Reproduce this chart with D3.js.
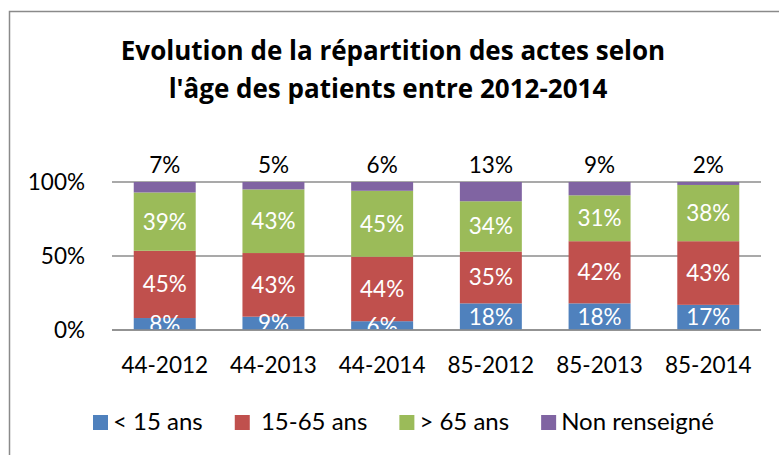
<!DOCTYPE html>
<html>
<head>
<meta charset="utf-8">
<script src="https://cdn.jsdelivr.net/npm/d3@7"></script>
<style>
  body { margin: 0; background: #fff; }
  svg { display: block; font-family: Lato, "Open Sans", sans-serif; }
</style>
</head>
<body>
<div id="chart"></div>
<script>
// data (percent, rounded as shown)
var categories = ["44-2012", "44-2013", "44-2014", "85-2012", "85-2013", "85-2014"];
var series = ["< 15 ans", " 15-65 ans", "> 65 ans", "Non renseigné"];
var moins15 = [8, 9, 6, 18, 18, 17];
var de15a65 = [45, 43, 44, 35, 42, 43];
var plus65 = [39, 43, 45, 34, 31, 38];
var nonRens = [7, 5, 6, 13, 9, 2];
var yTicks = [0, 0.5, 1];
var colors = ["#4F81BD", "#C0504D", "#9BBB59", "#8064A2"];

var W = 779, H = 455;
var svg = d3.select("#chart").append("svg")
    .attr("width", W)
    .attr("height", H);

// frame of the chart area (only top and left visible)
svg.append("path")
    .attr("d", "M9.5," + H + "V11.5H" + W)
    .attr("fill", "none")
    .attr("stroke", "#8a8a8a")
    .attr("stroke-width", 1.5);

// title
var title = svg.append("text")
    .attr("text-anchor", "middle")
    .attr("font-family", "'Open Sans', sans-serif")
    .attr("font-weight", "bold")
    .attr("font-size", 26)
    .attr("fill", "#000");
title.append("tspan").attr("x", 393).attr("y", 60).text("Evolution de la répartition des actes selon");
title.append("tspan").attr("x", 388).attr("y", 98).text("l'âge des patients entre 2012-2014");

// build table + normalize (100% stacked)
var keys = ["a", "b", "c", "d"];
var table = categories.map(function(c, i) {
  var row = {cat: c, a: moins15[i], b: de15a65[i], c: plus65[i], d: nonRens[i]};
  var tot = row.a + row.b + row.c + row.d;
  row.raw = {a: row.a, b: row.b, c: row.c, d: row.d};
  keys.forEach(function(k) { row[k] = row[k] / tot; });
  return row;
});
var stacked = d3.stack().keys(keys)(table);

var x = d3.scaleBand()
    .domain(categories)
    .range([112, 761])
    .paddingInner(0.43)
    .paddingOuter(0.2);
var y = d3.scaleLinear()
    .domain([0, 1])
    .range([330, 182]);

// gridlines
svg.append("g")
  .selectAll("line")
  .data(yTicks)
  .enter().append("line")
    .attr("x1", 112).attr("x2", 761)
    .attr("y1", function(d) { return y(d); })
    .attr("y2", function(d) { return y(d); })
    .attr("stroke", "#8c8c8c")
    .attr("stroke-width", 1.5);

// y labels
svg.append("g")
  .selectAll("text")
  .data(yTicks)
  .enter().append("text")
    .attr("x", 85)
    .attr("y", function(d) { return y(d) + 8; })
    .attr("text-anchor", "end")
    .attr("font-size", 22.5)
    .attr("fill", "#000")
    .text(function(d) { return Math.round(d * 100) + "%"; });

// bars
svg.append("g")
  .selectAll("g")
  .data(stacked)
  .enter().append("g")
    .attr("fill", function(d, i) { return colors[i]; })
  .selectAll("rect")
  .data(function(d) { return d; })
  .enter().append("rect")
    .attr("x", function(d) { return x(d.data.cat); })
    .attr("y", function(d) { return y(d[1]); })
    .attr("height", function(d) { return y(d[0]) - y(d[1]); })
    .attr("width", x.bandwidth());

// axis line at 0 drawn over the bars
svg.append("line")
    .attr("x1", 112).attr("x2", 761)
    .attr("y1", y(0)).attr("y2", y(0))
    .attr("stroke", "#8c8c8c")
    .attr("stroke-width", 1.5);

// inner labels, clipped to plot area
svg.append("clipPath").attr("id", "plotclip")
  .append("rect")
    .attr("x", 112).attr("y", y(1))
    .attr("width", 649).attr("height", y(0) - y(1) - 1);

svg.append("g")
    .attr("clip-path", "url(#plotclip)")
  .selectAll("g")
  .data(stacked.slice(0, 3))
  .enter().append("g")
  .selectAll("text")
  .data(function(s) { return s.map(function(d) { d.key = s.key; return d; }); })
  .enter().append("text")
    .attr("x", function(d) { return x(d.data.cat) + x.bandwidth() / 2; })
    .attr("y", function(d) { return (y(d[0]) + y(d[1])) / 2 + 8; })
    .attr("text-anchor", "middle")
    .attr("font-size", 22.5)
    .attr("fill", "#fff")
    .text(function(d) { return d.data.raw[d.key] + "%"; });

// top labels (Non renseigné)
svg.append("g")
  .selectAll("text")
  .data(table)
  .enter().append("text")
    .attr("x", function(d) { return x(d.cat) + x.bandwidth() / 2; })
    .attr("y", y(1) - 9)
    .attr("text-anchor", "middle")
    .attr("font-size", 22.5)
    .attr("fill", "#000")
    .text(function(d) { return d.raw.d + "%"; });

// x labels
svg.append("g")
  .selectAll("text")
  .data(categories)
  .enter().append("text")
    .attr("x", function(d) { return x(d) + x.bandwidth() / 2; })
    .attr("y", 373)
    .attr("text-anchor", "middle")
    .attr("font-size", 22.5)
    .attr("fill", "#000")
    .text(function(d) { return d; });

// legend
var legend = svg.append("g");
var lx = 93;
series.forEach(function(name, i) {
  legend.append("rect")
      .attr("x", lx).attr("y", 415)
      .attr("width", 15).attr("height", 15)
      .attr("fill", colors[i]);
  var t = legend.append("text")
      .attr("x", lx + 20)
      .attr("y", 430)
      .attr("font-size", 24)
      .attr("fill", "#000")
      .style("white-space", "pre")
      .text(name);
  lx = lx + 20 + t.node().getComputedTextLength() + 32;
});
</script>
</body>
</html>
